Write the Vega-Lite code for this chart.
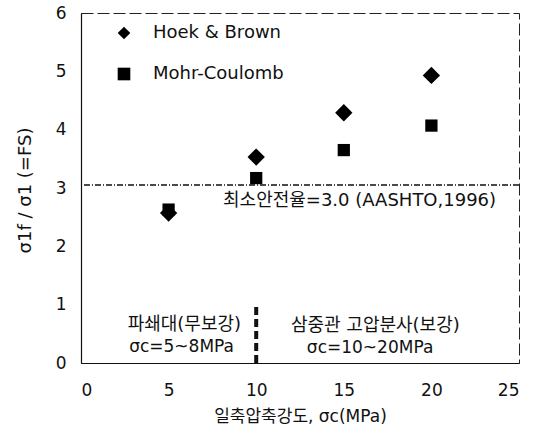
{
  "$schema": "https://vega.github.io/schema/vega-lite/v6.json",
  "width": 438,
  "height": 350,
  "autosize": {"type": "none"},
  "padding": {"left": 81, "top": 13, "right": 20, "bottom": 71},
  "background": "white",
  "config": {
    "font": "DejaVu Sans, Noto Sans CJK KR, sans-serif",
    "view": {"stroke": "#222", "strokeWidth": 1, "strokeDash": [12, 4]},
    "axis": {
      "domainColor": "#111",
      "domainWidth": 1.2,
      "ticks": false,
      "grid": false,
      "labelFontSize": 17,
      "labelColor": "#111",
      "titleFontSize": 17,
      "titleFontWeight": "normal",
      "titleColor": "#111",
      "labelFont": "DejaVu Sans, sans-serif",
      "titleFont": "DejaVu Sans, Noto Sans CJK KR, sans-serif"
    }
  },
  "layer": [
    {
      "data": {"values": [{"y": 3.05}]},
      "mark": {"type": "rule", "color": "#111", "strokeWidth": 1.5, "strokeDash": [6, 2, 1, 2]},
      "encoding": {"y": {"field": "y", "type": "quantitative", "scale": {"domain": [0, 6]}}}
    },
    {
      "data": {"values": [{"x": 10, "y": 0, "y2": 1}]},
      "mark": {"type": "rule", "color": "#111", "strokeWidth": 4, "strokeDash": [8, 4]},
      "encoding": {
        "x": {"field": "x", "type": "quantitative"},
        "y": {"field": "y", "type": "quantitative"},
        "y2": {"field": "y2"}
      }
    },
    {
      "data": {"values": [
        {"sc": 5, "fs": 2.57, "method": "Hoek & Brown"},
        {"sc": 10, "fs": 3.53, "method": "Hoek & Brown"},
        {"sc": 15, "fs": 4.29, "method": "Hoek & Brown"},
        {"sc": 20, "fs": 4.93, "method": "Hoek & Brown"}
      ]},
      "mark": {"type": "point", "filled": true, "color": "#000", "opacity": 1, "size": 300},
      "encoding": {
        "x": {
          "field": "sc", "type": "quantitative",
          "scale": {"domain": [0, 25], "nice": false},
          "axis": {"values": [0, 5, 10, 15, 20, 25], "format": "d", "labelPadding": 19, "title": "일축압축강도, σc(MPa)", "titleY": 53, "titleBaseline": "middle"}
        },
        "y": {
          "field": "fs", "type": "quantitative",
          "scale": {"domain": [0, 6], "nice": false},
          "axis": {"values": [0, 1, 2, 3, 4, 5, 6], "format": "d", "labelPadding": 15, "title": "σ1f / σ1  (=FS)", "titleX": -56, "titleY": 177, "titleAngle": -90, "titleBaseline": "middle", "titleFontSize": 18}
        },
        "shape": {
          "field": "method", "type": "nominal",
          "scale": {"domain": ["Hoek & Brown", "Mohr-Coulomb"], "range": ["diamond", "square"]},
          "legend": {
            "title": null, "orient": "none", "legendX": 34, "legendY": 11,
            "symbolSize": 160, "symbolFillColor": "#000", "symbolStrokeColor": "#000",
            "labelFontSize": 18, "labelColor": "#111", "labelOffset": 20, "rowPadding": 21,
            "labelFont": "DejaVu Sans, sans-serif"
          }
        }
      }
    },
    {
      "data": {"values": [
        {"sc": 5, "fs": 2.63, "method": "Mohr-Coulomb"},
        {"sc": 10, "fs": 3.17, "method": "Mohr-Coulomb"},
        {"sc": 15, "fs": 3.65, "method": "Mohr-Coulomb"},
        {"sc": 20, "fs": 4.07, "method": "Mohr-Coulomb"}
      ]},
      "mark": {"type": "point", "filled": true, "color": "#000", "opacity": 1, "size": 150},
      "encoding": {
        "x": {"field": "sc", "type": "quantitative"},
        "y": {"field": "fs", "type": "quantitative"},
        "shape": {"field": "method", "type": "nominal"}
      }
    },
    {
      "data": {"values": [{"x": 15.9, "y": 2.78, "t": "최소안전율=3.0 (AASHTO,1996)"}]},
      "mark": {"type": "text", "fontSize": 18, "color": "#111", "font": "DejaVu Sans, Noto Sans CJK KR, sans-serif"},
      "encoding": {"x": {"field": "x", "type": "quantitative"}, "y": {"field": "y", "type": "quantitative"}, "text": {"field": "t"}}
    },
    {
      "data": {"values": [
        {"x": 5.9, "y": 0.66, "t": "파쇄대(무보강)"},
        {"x": 16.8, "y": 0.63, "t": "삼중관  고압분사(보강)"}
      ]},
      "mark": {"type": "text", "fontSize": 18, "color": "#111", "font": "DejaVu Sans, Noto Sans CJK KR, sans-serif"},
      "encoding": {"x": {"field": "x", "type": "quantitative"}, "y": {"field": "y", "type": "quantitative"}, "text": {"field": "t"}}
    },
    {
      "data": {"values": [
        {"x": 5.74, "y": 0.27, "t": "σc=5~8MPa"},
        {"x": 16.5, "y": 0.25, "t": "σc=10~20MPa"}
      ]},
      "mark": {"type": "text", "fontSize": 17, "color": "#111", "font": "DejaVu Sans, sans-serif"},
      "encoding": {"x": {"field": "x", "type": "quantitative"}, "y": {"field": "y", "type": "quantitative"}, "text": {"field": "t"}}
    }
  ]
}
